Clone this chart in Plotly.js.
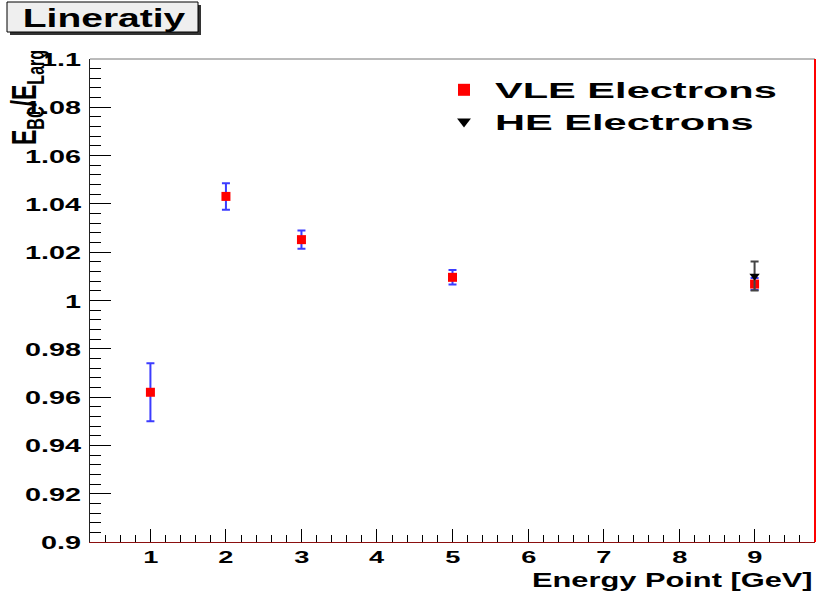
<!DOCTYPE html>
<html><head><meta charset="utf-8">
<script src="https://cdn.plot.ly/plotly-3.0.1.min.js"></script>
<style>html,body{margin:0;padding:0;background:#fff;} #chart{width:819px;height:599px;}</style>
</head><body><div id="chart"></div>
<script>
// ---- data ----
var vleEnergy = [1, 2, 3, 5, 9];
var vleRatio  = [0.9620, 1.0431, 1.0252, 1.0096, 1.0068];
var vleErr    = [0.0120, 0.0055, 0.0038, 0.0030, 0.0025];
var heEnergy  = [9];
var heRatio   = [1.0101];
var heErr     = [0.0060];
var yTickVals = [0.9, 0.92, 0.94, 0.96, 0.98, 1, 1.02, 1.04, 1.06, 1.08, 1.1];
var yTickText = ['0.9', '0.92', '0.94', '0.96', '0.98', '1', '1.02', '1.04', '1.06', '1.08', '1.1'];
var xTickVals = [1, 2, 3, 4, 5, 6, 7, 8, 9];
var xTickText = ['1', '2', '3', '4', '5', '6', '7', '8', '9'];
var seriesNames = ['VLE Electrons', 'HE Electrons'];
var titleText = 'Lineratiy';
var xTitleText = 'Energy Point [GeV]';
var yTitleText = 'E<sub>BC</sub>/E<sub>Larg</sub>';

// ---- geometry helpers (layout only) ----
var L = 90, R = 815, T = 59, B = 542;
function px(x) { return (x - L) / (R - L); }
function py(y) { return (B - y) / (B - T); }
var FONT = 'Liberation Sans, Arial, sans-serif';

var traces = [
  {
    x: vleEnergy, y: vleRatio, type: 'scatter', mode: 'markers', name: seriesNames[0],
    marker: {symbol: 'square', size: 9, color: '#ff0000'},
    error_y: {type: 'data', array: vleErr, color: '#3c3cff', thickness: 2, width: 4}
  },
  {
    x: heEnergy, y: heRatio, type: 'scatter', mode: 'markers', name: seriesNames[1],
    marker: {symbol: 'triangle-down', size: 9, color: '#000000'},
    error_y: {type: 'data', array: heErr, color: '#444444', thickness: 2, width: 4}
  }
];

// titles and tick labels as annotations placed through the axes (so they can be widened like the reference)
var annotations = [
  {text: titleText, xref: 'paper', yref: 'paper', x: px(104), y: py(18), xanchor: 'center', yanchor: 'middle',
   showarrow: false, font: {family: FONT, size: 26, weight: 'bold', color: '#000'}},
  {text: xTitleText, xref: 'paper', yref: 'paper', x: px(815), y: py(580), xanchor: 'right', yanchor: 'middle',
   showarrow: false, font: {family: FONT, size: 19.5, weight: 'bold', color: '#000'}},
  {text: yTitleText, xref: 'paper', yref: 'paper', x: px(26), y: py(98), xanchor: 'center', yanchor: 'middle',
   textangle: -90, showarrow: false, font: {family: FONT, size: 23, weight: 'bold', color: '#000'}}
];
var firstYTick = annotations.length;
yTickVals.forEach(function (v, i) {
  annotations.push({text: yTickText[i], xref: 'paper', yref: 'y', x: 0, y: v, xanchor: 'right', yanchor: 'middle',
    xshift: -7, yshift: -1, showarrow: false, font: {family: FONT, size: 18, weight: 'bold', color: '#000'}});
});
var firstXTick = annotations.length;
xTickVals.forEach(function (v, i) {
  annotations.push({text: xTickText[i], xref: 'x', yref: 'paper', x: v, y: py(557), xanchor: 'center', yanchor: 'middle',
    showarrow: false, font: {family: FONT, size: 17, weight: 'bold', color: '#000'}});
});
var lastTick = annotations.length;

var layout = {
  width: 819, height: 599,
  margin: {l: L, r: 819 - R, t: T, b: 599 - B, pad: 0},
  paper_bgcolor: '#ffffff', plot_bgcolor: '#ffffff',
  font: {family: FONT, color: '#000', weight: 'bold'},
  showlegend: true,
  legend: {
    x: px(433), y: py(69), xanchor: 'left', yanchor: 'top',
    bgcolor: 'rgba(0,0,0,0)', borderwidth: 0,
    font: {family: FONT, size: 22, weight: 'bold', color: '#000'},
    itemsizing: 'constant', itemwidth: 52, entrywidth: 360
  },
  xaxis: {
    range: [0.2, 9.8], showgrid: false, zeroline: false,
    showline: true, linecolor: '#8b1010', linewidth: 1,
    tickmode: 'array', tickvals: xTickVals, showticklabels: false,
    ticks: 'inside', ticklen: 13, tickwidth: 1, tickcolor: '#000',
    minor: {tickmode: 'linear', tick0: 0, dtick: 0.2, ticks: 'inside', ticklen: 7, tickwidth: 1, tickcolor: '#000', showgrid: false}
  },
  yaxis: {
    range: [0.9, 1.1], showgrid: false, zeroline: false,
    showline: true, linecolor: '#222', linewidth: 1,
    tickmode: 'array', tickvals: yTickVals, showticklabels: false,
    ticks: 'inside', ticklen: 21, tickwidth: 1, tickcolor: '#000',
    minor: {tickmode: 'linear', tick0: 0.9, dtick: 0.004, ticks: 'inside', ticklen: 11, tickwidth: 1, tickcolor: '#000', showgrid: false}
  },
  shapes: [
    {type: 'rect', xref: 'paper', yref: 'paper', x0: px(10), x1: px(201), y0: py(35), y1: py(5), fillcolor: '#333', line: {width: 0}, layer: 'above'},
    {type: 'rect', xref: 'paper', yref: 'paper', x0: px(7), x1: px(198), y0: py(32), y1: py(2), fillcolor: '#efefef', line: {color: '#000', width: 1}, layer: 'above'},
    {type: 'line', xref: 'paper', yref: 'paper', x0: 0, x1: 1, y0: 1, y1: 1, line: {color: '#777', width: 1}},
    {type: 'line', xref: 'paper', yref: 'paper', x0: 1, x1: 1, y0: 0, y1: 1, line: {color: '#ff0000', width: 2}}
  ],
  annotations: annotations
};

function stretch(nodes, s, pivot, vertical) {
  Array.prototype.forEach.call(nodes, function (el) {
    if (!el) return;
    var cur = el.getAttribute('transform') || '';
    if (el.__stretchedTo !== undefined && el.__stretchedTo === cur) return;
    var b = el.getBBox();
    var extra;
    if (vertical) {
      var c = b.y + b.height / 2;
      extra = ' translate(0,' + c + ') scale(1,' + s + ') translate(0,' + (-c) + ')';
    } else {
      var p = pivot === 'left' ? b.x : (pivot === 'right' ? b.x + b.width : b.x + b.width / 2);
      extra = ' translate(' + p + ',0) scale(' + s + ',1) translate(' + (-p) + ',0)';
    }
    el.setAttribute('transform', cur + extra);
    el.__stretchedTo = el.getAttribute('transform');
  });
}

function applyStretch() {
  var gd = document.getElementById('chart');
  stretch(gd.querySelectorAll('.legendtext'), 1.89, 'left');
  var ann = gd.querySelectorAll('.annotation-text');
  stretch([ann[0]], 1.5, 'center');
  stretch([ann[1]], 1.58, 'right');
  stretch([ann[2]], 1.5, 'center', true);
  var i;
  for (i = firstYTick; i < firstXTick; i++) stretch([ann[i]], 1.6, 'right');
  for (i = firstXTick; i < lastTick; i++) stretch([ann[i]], 1.6, 'center');
  Array.prototype.forEach.call(gd.querySelectorAll('.legend [clip-path]'), function (el) {
    el.removeAttribute('clip-path');
  });
}

Plotly.newPlot('chart', traces, layout, {displayModeBar: false, staticPlot: true}).then(function () {
  applyStretch();
  var n = 0;
  var iv = setInterval(function () {
    applyStretch();
    if (++n > 40) clearInterval(iv);
  }, 40);
});
</script>
</body></html>
